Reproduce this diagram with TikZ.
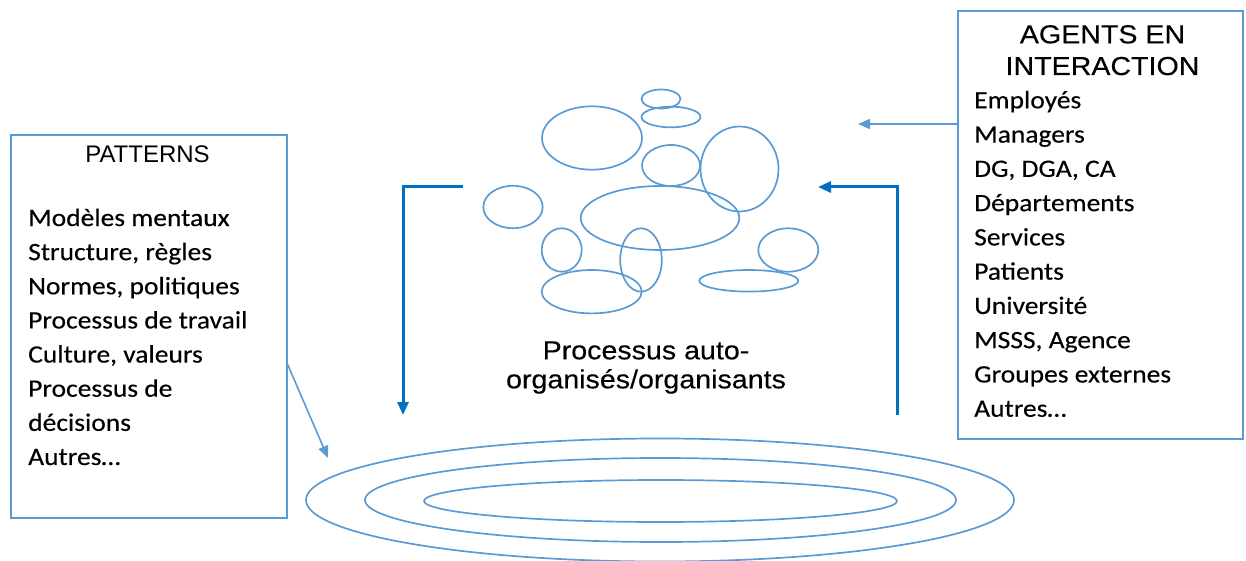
\documentclass[tikz,border=0pt]{standalone}
\usepackage{fontspec}
\setmainfont{Carlito}
\newfontfamily\calw{Carlito}[FakeStretch=1.1,FakeBold=0.3]
\newfontfamily\arialf{Liberation Sans}
\newfontfamily\arialw{Liberation Sans}[FakeStretch=1.1,FakeBold=0.3]
\usetikzlibrary{shapes.geometric,arrows.meta,calc}
\definecolor{lblue}{RGB}{91,155,213}
\definecolor{dblue}{RGB}{0,112,192}
\begin{document}
\begin{tikzpicture}[x=1pt,y=-1pt,
  box/.style={draw=lblue, line width=1.6pt, inner sep=0pt, outer sep=0pt},
  bubble/.style={draw=lblue, line width=1.7pt},
  ring/.style={draw=lblue, line width=1.7pt, ellipse, inner sep=0pt},
  thinarrow/.style={draw=lblue, line width=1.6pt, -{Triangle[width=10pt,length=12pt]}},
  thickarrow/.style={draw=dblue, line width=3pt, -{Triangle[width=11pt,length=13pt]}},
  item/.style={anchor=base west, font=\calw\fontsize{25}{30}\selectfont, inner sep=0pt},
  head/.style={anchor=base, font=\arialf\fontsize{24}{28}\selectfont, inner sep=0pt},
  bighead/.style={anchor=base, font=\arialw\fontsize{26}{30}\selectfont, inner sep=0pt},
  proc/.style={anchor=base, font=\arialw\fontsize{26}{30}\selectfont, inner sep=0pt}]
\useasboundingbox (0,0) rectangle (1246,561);

% boxes
\node[box, minimum width=276pt, minimum height=383pt] (patterns) at (149,326.5) {};
\node[box, minimum width=285pt, minimum height=428pt] (agents) at (1100.5,225) {};

% patterns text
\node[head] (ptitle) at (147.5,162.3) {PATTERNS};
\foreach \t [count=\i from 0] in {Modèles mentaux,{Structure, règles},{Normes, politiques},Processus de travail,{Culture, valeurs},Processus de,décisions,Autres…}
  \node[item] (p\i) at (28,{226+34.14*\i}) {\t};

% agents text
\node[bighead] (atitle1) at (1102.5,43.3) {AGENTS EN};
\node[bighead] (atitle2) at (1102.5,75) {INTERACTION};
\foreach \t [count=\i from 0] in {Employés,Managers,{DG, DGA, CA},Départements,Services,Patients,Université,{MSSS, Agence},Groupes externes,Autres…}
  \node[item] (a\i) at (974,{108.3+34.27*\i}) {\t};

% bubbles
\draw[bubble] (661,99) ellipse [x radius=19.5, y radius=9.5];
\draw[bubble] (671,117) ellipse [x radius=29.5, y radius=10.3];
\draw[bubble] (592,138) ellipse [x radius=50, y radius=31.7];
\draw[bubble] (671,165.5) ellipse [x radius=29, y radius=20.5];
\draw[bubble] (660,218) ellipse [x radius=79.3, y radius=32];
\draw[bubble] (739.5,169) ellipse [x radius=39, y radius=42.5];
\draw[bubble] (513,207) ellipse [x radius=29.7, y radius=21.2];
\draw[bubble] (561.7,250) ellipse [x radius=20, y radius=21.7];
\draw[bubble] (591.7,291.7) ellipse [x radius=50, y radius=21.7];
\draw[bubble] (641,260) ellipse [x radius=20.8, y radius=31.7];
\draw[bubble] (788.3,250) ellipse [x radius=30, y radius=21.7];
\draw[bubble] (748.8,280.8) ellipse [x radius=49.5, y radius=10.8];

% central label
\node[proc] (proc1) at (646,359.3) {Processus auto-};
\node[proc] (proc2) at (646,388.3) {organisés/organisants};

% rings
\node[ring, minimum width=708pt, minimum height=123pt] (outer) at (660,500) {};
\node[ring, minimum width=591pt, minimum height=84pt] (middle) at (660.5,500) {};
\node[ring, minimum width=473pt, minimum height=42pt] (inner) at (660.5,501) {};

% connectors
\coordinate (atip) at (858,124);
\draw[thinarrow] ([yshift=101pt]agents.west) -- (atip);
\coordinate (ptip) at (328,458);
\draw[thinarrow] ([yshift=-36.5pt]patterns.east) -- (ptip);

\coordinate (lstart) at (463,187);
\coordinate (lend) at (403,415);
\draw[thickarrow] (lstart) -| (lend);
\coordinate (rstart) at (897,415);
\coordinate (rend) at (818,187);
\draw[thickarrow] (rstart) |- (rend);
\end{tikzpicture}
\end{document}
